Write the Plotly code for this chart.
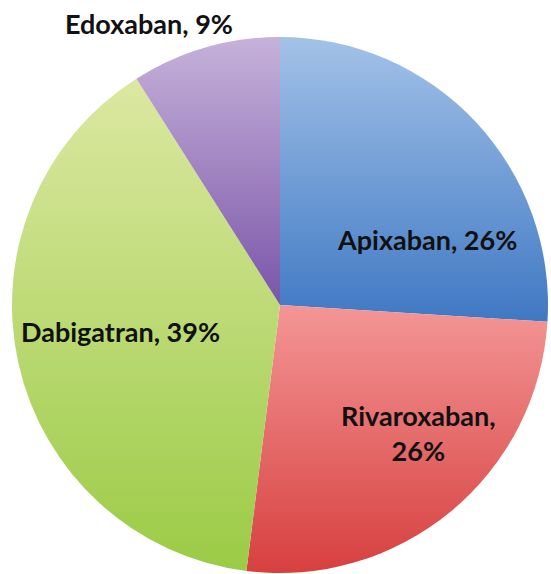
import json
import plotly.graph_objects as go

# Share of prescriptions by anticoagulant
drugs = ["Apixaban", "Rivaroxaban", "Dabigatran", "Edoxaban"]
shares = [26, 26, 39, 9]

# Vertical fill gradient per slice (top colour, bottom colour)
grad_top = ["#A3C2E8", "#F49696", "#DCE8A2", "#C6B2DA"]
grad_bottom = ["#3F78C3", "#D6403F", "#9BCB46", "#7A55A8"]
base_colors = ["#6F9DD6", "#E86B6A", "#BCDA74", "#A083C1"]

W, H = 551, 574
CX, CY, R = 280, 305, 268

# Label anchor points (pixels) and line break choice
label_pos = [(427, 239), (418, 433), (120, 331), (149, 23)]
label_sep = [", ", ",<br>", ", ", ", "]

fig = go.Figure(
    go.Pie(
        labels=drugs,
        values=shares,
        sort=False,
        direction="clockwise",
        rotation=0,
        textinfo="none",
        hoverinfo="label+percent",
        marker=dict(colors=base_colors, line=dict(width=0)),
        domain=dict(
            x=[(CX - R) / W, (CX + R) / W],
            y=[(H - CY - R) / H, (H - CY + R) / H],
        ),
        showlegend=False,
    )
)

for name, val, (px, py), sep in zip(drugs, shares, label_pos, label_sep):
    fig.add_annotation(
        text=f"{name}{sep}{val}%",
        xref="paper", yref="paper",
        x=px / W, y=1 - py / H,
        xanchor="center", yanchor="middle",
        showarrow=False,
        font=dict(family="Lato", size=27, color="#111111", weight="bold"),
        align="center",
    )

fig.update_layout(
    width=W, height=H,
    margin=dict(l=0, r=0, t=0, b=0),
    paper_bgcolor="white",
    plot_bgcolor="white",
)

# Apply a top-to-bottom gradient to each slice after the plot is drawn
js = """
var gd = document.getElementById('{plot_id}');
var svg = gd.querySelector('svg.main-svg');
var ns = 'http://www.w3.org/2000/svg';
var defs = svg.querySelector('defs') || svg.insertBefore(document.createElementNS(ns, 'defs'), svg.firstChild);
var tops = TOPS, bots = BOTS;
var paths = gd.querySelectorAll('g.slice path.surface');
paths.forEach(function(p, i) {
  var g = document.createElementNS(ns, 'linearGradient');
  g.setAttribute('id', 'slicegrad' + i);
  g.setAttribute('x1', '0'); g.setAttribute('y1', '0');
  g.setAttribute('x2', '0'); g.setAttribute('y2', '1');
  [[0, tops[i]], [1, bots[i]]].forEach(function(s) {
    var st = document.createElementNS(ns, 'stop');
    st.setAttribute('offset', s[0]);
    st.setAttribute('stop-color', s[1]);
    g.appendChild(st);
  });
  defs.appendChild(g);
  p.style.fill = 'url(#slicegrad' + i + ')';
});
""".replace("TOPS", json.dumps(grad_top)).replace("BOTS", json.dumps(grad_bottom))

fig.write_html("out.html", post_script=js)
